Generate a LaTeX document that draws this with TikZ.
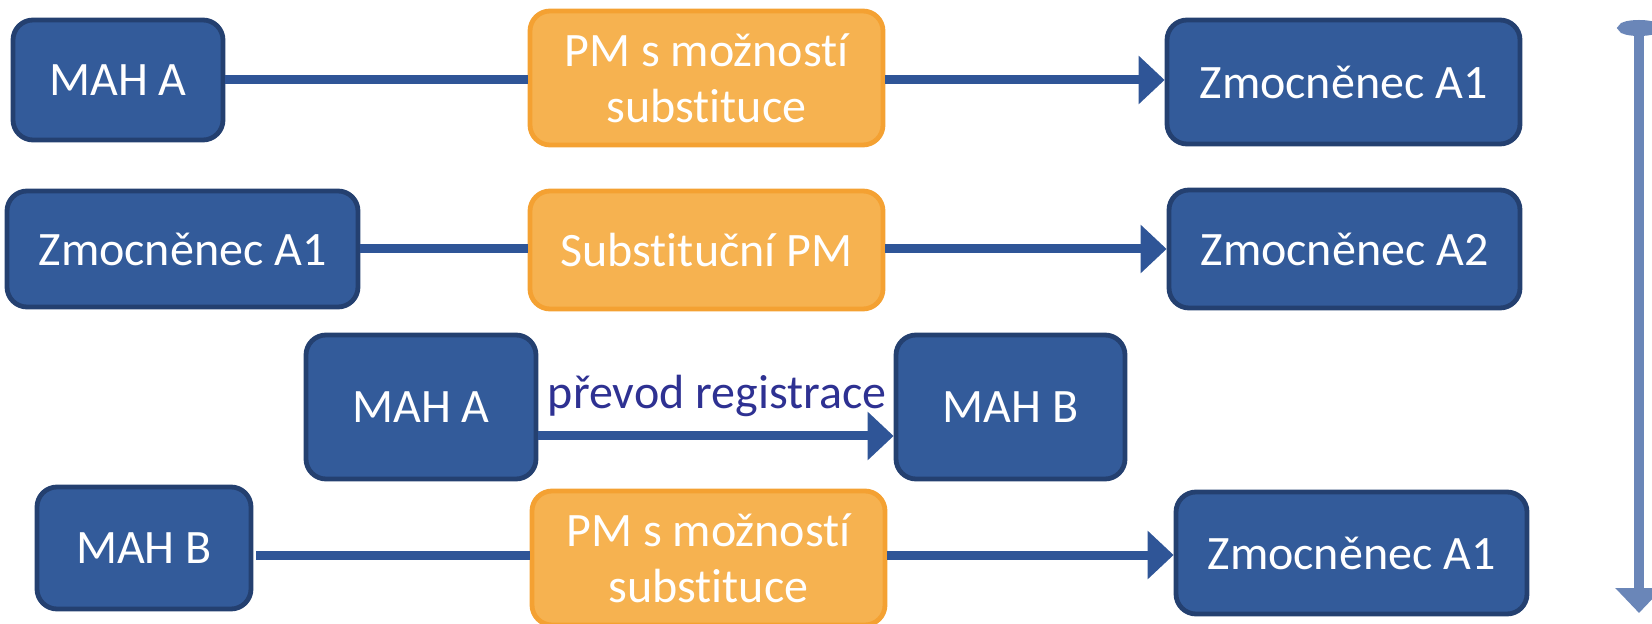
\documentclass[tikz,border=0pt]{standalone}
\usepackage{fontspec}
\setmainfont{Carlito}[Ligatures=NoCommon]
\usepackage{tikz}
\usetikzlibrary{arrows.meta,positioning}

\definecolor{boxblue}{RGB}{51,91,154}
\definecolor{boxedge}{RGB}{36,64,112}
\definecolor{pmorange}{RGB}{246,178,80}
\definecolor{pmedge}{RGB}{244,161,50}
\definecolor{linkblue}{RGB}{47,85,151}
\definecolor{timeblue}{RGB}{106,134,184}
\definecolor{labelblue}{RGB}{46,49,146}

\tikzset{
  mahbox/.style={draw=boxedge, fill=boxblue, line width=2.4pt, rounded corners=10pt,
    text=white, inner sep=0pt, align=center, font=\fontsize{24}{28}\selectfont},
  pmbox/.style={mahbox, draw=pmedge, fill=pmorange, minimum width=176.5pt},
  link/.style={draw=linkblue, line width=4.5pt},
  linkarrow/.style={link, -{Triangle[length=13pt,width=23.5pt]}}
}

\begin{document}
\begin{tikzpicture}[x=0.5pt, y=-0.5pt]
			\useasboundingbox (0,0) rectangle (1652,624);
			\clip (0,0) rectangle (1652,624);

			% first row
			\node [mahbox, minimum width=105pt, minimum height=60pt] (mahA) at (118,80) {MAH A};
			\node [pmbox, minimum height=67pt] (pmA) at (706.5,78) {PM s možností\\substituce};
			\node [mahbox, minimum width=176.5pt, minimum height=62pt] (zmA) at (1343.5,82) {Zmocněnec A1};
			\coordinate (l1) at (0,80);

			% second row
			\node [mahbox, minimum width=175.5pt, minimum height=58pt] (zmB) at (182.5,249) {Zmocněnec A1};
			\node [pmbox, minimum height=59pt] (pmB) at (706.5,250) {Substituční PM};
			\node [mahbox, minimum width=175.5pt, minimum height=59pt] (zmC) at (1344.5,249) {Zmocněnec A2};
			\coordinate (l2) at (0,249);

			% third row
			\node [mahbox, minimum width=115pt, minimum height=72pt] (mahC) at (421,407) {MAH A};
			\node [mahbox, minimum width=114.5pt, minimum height=72pt] (mahD) at (1010.5,407) {MAH B};
			\node [text=labelblue, font=\fontsize{24}{28}\selectfont] (reg) at (717,396) {převod registrace};
			\coordinate (l3) at (0,436);

			% fourth row
			\node [mahbox, minimum width=107pt, minimum height=61pt] (mahE) at (144,548) {MAH B};
			\node [pmbox, minimum height=67pt] (pmE) at (708.5,558) {PM s možností\\substituce};
			\node [mahbox, minimum width=175.5pt, minimum height=61pt] (zmE) at (1351.5,553) {Zmocněnec A1};
			\coordinate (l4) at (0,555);

			% time axis
			\coordinate (ttop) at (1639,20);
			\coordinate (tbot) at (1639,613);

			\draw [link] (mahA.east |- l1) to (pmA.west |- l1);
			\draw [linkarrow] (pmA.east |- l1) to (zmA.west |- l1);
			\draw [link] (zmB.east |- l2) to (pmB.west |- l2);
			\draw [linkarrow] (pmB.east |- l2) to (zmC.west |- l2);
			\draw [linkarrow] (mahC.east |- l3) to (mahD.west |- l3);
			\draw [link] ([xshift=1.5pt]mahE.east |- l4) to (pmE.west |- l4);
			\draw [linkarrow] (pmE.east |- l4) to (zmE.west |- l4);
			\draw [draw=timeblue, line width=5pt,
			       {Ellipse[length=8pt,width=21pt]}-{Triangle[length=12.5pt,width=23pt]}] (ttop) to (tbot);
		\end{tikzpicture}
\end{document}
